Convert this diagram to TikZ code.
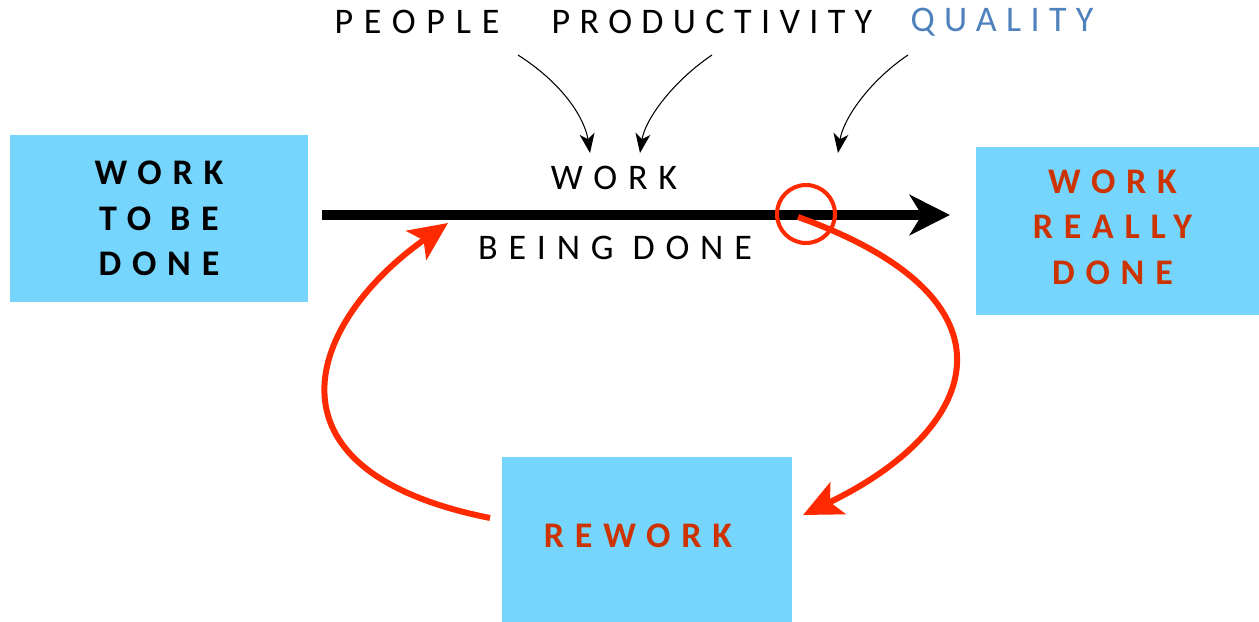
\documentclass[tikz,border=0pt]{standalone}
\usepackage{fontspec}
\setmainfont{Carlito}
\newfontfamily\wide[LetterSpace=30]{Carlito}
\usetikzlibrary{arrows.meta}
\definecolor{boxblue}{HTML}{75D5FD}
\definecolor{txtred}{HTML}{CC3300}
\definecolor{loopred}{HTML}{FF2A00}
\definecolor{qblue}{HTML}{4F81BD}
\newcommand\lbl{\fontsize{20.5}{26}\selectfont\wide}

\begin{document}
\begin{tikzpicture}[x=0.02cm, y=-0.02cm,
  box/.style={fill=boxblue, inner sep=0pt},
  boxtext/.style={align=center, font=\lbl\bfseries},
  thin/.style={-{Stealth[length=11pt, width=8.5pt, inset=3pt]}, line width=0.6pt},
  loop/.style={loopred, line width=3.4pt, -{Stealth[length=22pt, width=20pt, inset=5pt]}}]

\useasboundingbox (0,0) rectangle (1259,622);

% boxes
\node[box, minimum width=5.96cm, minimum height=3.34cm] (todo) at (159,218.5) {};
\node[box, minimum width=5.66cm, minimum height=3.36cm] (done) at (1117.5,231) {};
\node[box, minimum width=5.80cm, minimum height=3.30cm] (rework) at (647,539.5) {};
\node[boxtext] (todotxt) at (todo.center) {WORK\\TO BE\\DONE};
\node[boxtext, text=txtred] (donetxt) at ([shift={(-5,-4)}]done.center) {WORK\\REALLY\\DONE};
\node[boxtext, text=txtred] (reworktxt) at ([shift={(-9,-4)}]rework.center) {REWORK};

% top labels
\node[font=\lbl] (people) at (417,22) {PEOPLE};
\node[font=\lbl\addfontfeature{LetterSpace=26}] (prod) at (712,22) {PRODUCTIVITY};
\node[font=\lbl\addfontfeature{LetterSpace=26}, text=qblue] (quality) at (1002,22) {QUALITY};

% main flow
\coordinate (a0) at (322,215);
\coordinate (a1) at (950,215);
\draw[line width=5.7pt, -{Stealth[length=23pt, width=23pt, inset=7pt]}] (a0) -- (a1);
\node[font=\lbl] (wk) at (614,178) {WORK};
\node[font=\lbl] (bd) at (615,248) {BEING DONE};

\coordinate (p0) at (518,55);  \coordinate (p1) at (590,153);
\coordinate (q0) at (712,55);  \coordinate (q1) at (640,153);
\coordinate (u0) at (908,55);  \coordinate (u1) at (838,153);
\draw[thin] (p0) .. controls (565,85) and (585,120) .. (p1);
\draw[thin] (q0) .. controls (672,82) and (645,120) .. (q1);
\draw[thin] (u0) .. controls (868,82) and (843,120) .. (u1);

% rework loop
\node[draw=loopred, circle, line width=2.3pt, minimum size=1.16cm, inner sep=0pt] (chk) at (806,214) {};
\coordinate (r0) at (798,217);
\coordinate (r1) at (803,515);
\coordinate (s0) at (490,518);
\coordinate (s1) at (448,223);
\draw[loop] (r0) .. controls (1030,300) and (980,430) .. (r1);
\draw[loop] (s0) .. controls (250,470) and (310,320) .. (s1);

\end{tikzpicture}
\end{document}
